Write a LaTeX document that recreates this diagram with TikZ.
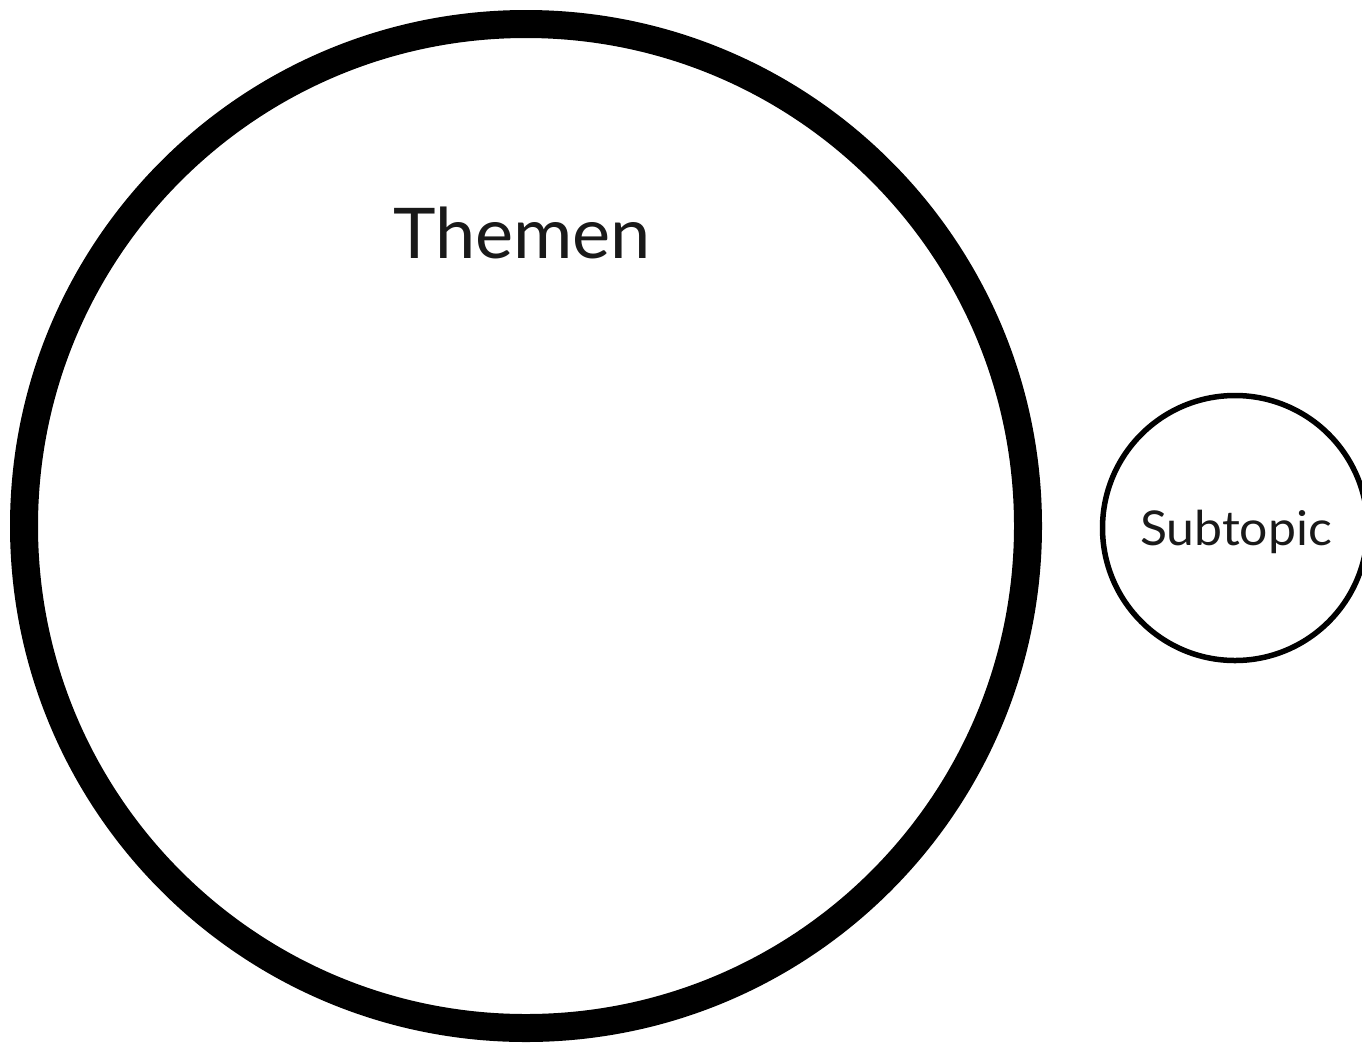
\documentclass[tikz,border=0pt]{standalone}
\usepackage{fontspec}
\setmainfont{Lato}
\begin{document}
\begin{tikzpicture}[x=1pt,y=1pt,
  bigc/.style={circle,draw=black,line width=28pt,minimum size=1004pt,inner sep=0pt},
  smallc/.style={circle,draw=black,line width=5.5pt,minimum size=265pt,inner sep=0pt},
  lbl/.style={inner sep=0pt,text=black!90}]
\useasboundingbox (0,0) rectangle (1362,-1045);
\node[bigc] (themen) at (526,-526) {};
\node[lbl,font=\fontsize{70}{80}\selectfont,anchor=base,xscale=1.03] (themenlbl) at (522,-258) {Themen};
\node[lbl,font=\fontsize{48}{56}\selectfont,anchor=base,xscale=1.04] (sublbl) at (1236,-545) {Subtopic};
\node[smallc] (sub) at (1235,-528) {};
\end{tikzpicture}
\end{document}
